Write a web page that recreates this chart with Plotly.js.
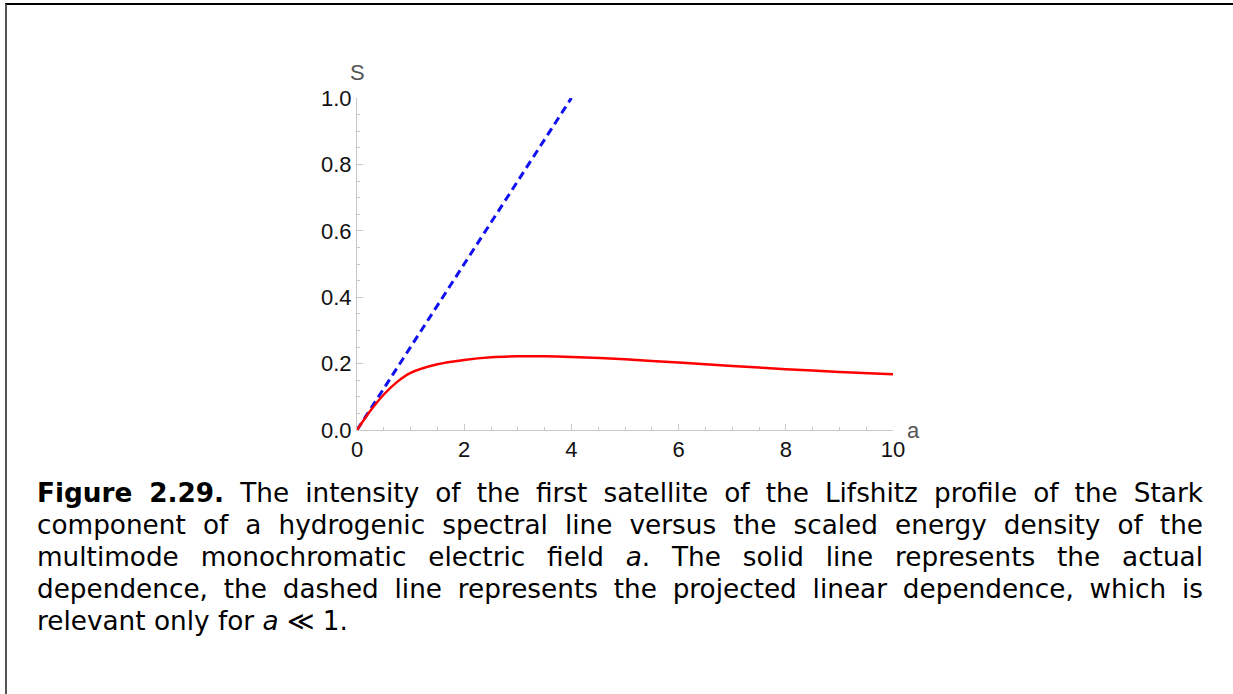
<!DOCTYPE html>
<html>
<head>
<meta charset="utf-8">
<script src="https://cdn.plot.ly/plotly-3.0.1.min.js"></script>
<style>
  html, body { margin: 0; padding: 0; background: #fff; }
  #page { position: relative; width: 1233px; height: 694px; overflow: hidden; }
  #frame {
    position: absolute; left: 5px; top: 3px; right: -10px; bottom: -10px;
    border-top: 2px solid #000; border-left: 2px solid #555;
  }
  #chart { position: absolute; left: 0; top: 0; width: 1233px; height: 694px; }
  #caption {
    position: absolute; left: 37px; top: 477px; width: 1166px;
    font-family: "DejaVu Sans", Verdana, sans-serif; font-size: 26.3px;
    line-height: 32px; color: #000;
  }
  #caption .ln { text-align: justify; text-align-last: justify; white-space: nowrap; }
  #caption .ln.last { text-align-last: left; }
</style>
</head>
<body>
<div id="page">
  <div id="frame"></div>
  <div id="chart"></div>
  <div id="caption">
    <div class="ln"><b>Figure 2.29.</b> The intensity of the first satellite of the Lifshitz profile of the Stark</div>
    <div class="ln">component of a hydrogenic spectral line versus the scaled energy density of the</div>
    <div class="ln">multimode monochromatic electric field <i>a</i>. The solid line represents the actual</div>
    <div class="ln">dependence, the dashed line represents the projected linear dependence, which is</div>
    <div class="ln last">relevant only for <i>a</i> &#8810; 1.</div>
  </div>
</div>
<script>
// Satellite intensity S versus scaled field energy density a
const aActual = [0, 0.1, 0.25, 0.5, 0.75, 1, 1.5, 2, 2.5, 3, 3.5, 4, 5, 6, 7, 8, 9, 10];
const sActual = [0, 0.024, 0.058, 0.107, 0.145, 0.172, 0.198, 0.211, 0.219, 0.222, 0.222, 0.220, 0.213, 0.203, 0.193, 0.183, 0.175, 0.168];

// Projected linear dependence for small a
const aLinear = [0, 4];
const sLinear = [0, 1];

const xTicks = [0, 2, 4, 6, 8, 10];
const yTicks = [0, 0.2, 0.4, 0.6, 0.8, 1.0];

const axisGray = '#c8c8c8';
const tickFont = { family: 'Liberation Sans, Arial, sans-serif', size: 22, color: '#111' };
const labelFont = { family: 'Liberation Sans, Arial, sans-serif', size: 22, color: '#555' };

const traces = [
  {
    x: aLinear, y: sLinear, mode: 'lines', type: 'scatter',
    line: { color: '#1010f0', width: 3, dash: '8px,5px' },
    hoverinfo: 'skip'
  },
  {
    x: aActual, y: sActual, mode: 'lines', type: 'scatter',
    line: { color: '#ff0000', width: 2.5, shape: 'spline', smoothing: 0.8 },
    hoverinfo: 'skip'
  }
];

const layout = {
  width: 1233, height: 694,
  margin: { l: 357, r: 340, t: 98, b: 264 },
  paper_bgcolor: 'rgba(0,0,0,0)', plot_bgcolor: 'rgba(0,0,0,0)',
  showlegend: false,
  xaxis: {
    range: [0, 10], showgrid: false, zeroline: false,
    showline: true, linecolor: axisGray, linewidth: 1,
    tickmode: 'array', tickvals: xTicks, ticktext: xTicks.map(String),
    ticks: 'inside', ticklen: 6, tickcolor: axisGray, tickwidth: 1,
    minor: { dtick: 0.5, ticks: 'inside', ticklen: 3, tickcolor: axisGray, showgrid: false },
    tickfont: tickFont
  },
  yaxis: {
    range: [0, 1], showgrid: false, zeroline: false,
    showline: true, linecolor: axisGray, linewidth: 1,
    tickmode: 'array', tickvals: yTicks, ticktext: yTicks.map(v => v.toFixed(1)),
    ticks: 'inside', ticklen: 6, tickcolor: axisGray, tickwidth: 1,
    minor: { dtick: 0.05, ticks: 'inside', ticklen: 3, tickcolor: axisGray, showgrid: false },
    tickfont: tickFont
  },
  annotations: [
    { text: 'S', xref: 'paper', yref: 'paper', x: 0, y: 1, xanchor: 'center', yanchor: 'middle',
      yshift: 26, showarrow: false, font: labelFont },
    { text: 'a', xref: 'paper', yref: 'paper', x: 1, y: 0, xanchor: 'center', yanchor: 'middle',
      xshift: 20, yshift: 0, showarrow: false, font: labelFont }
  ]
};

Plotly.newPlot('chart', traces, layout, { staticPlot: true, displayModeBar: false });
</script>
</body>
</html>
